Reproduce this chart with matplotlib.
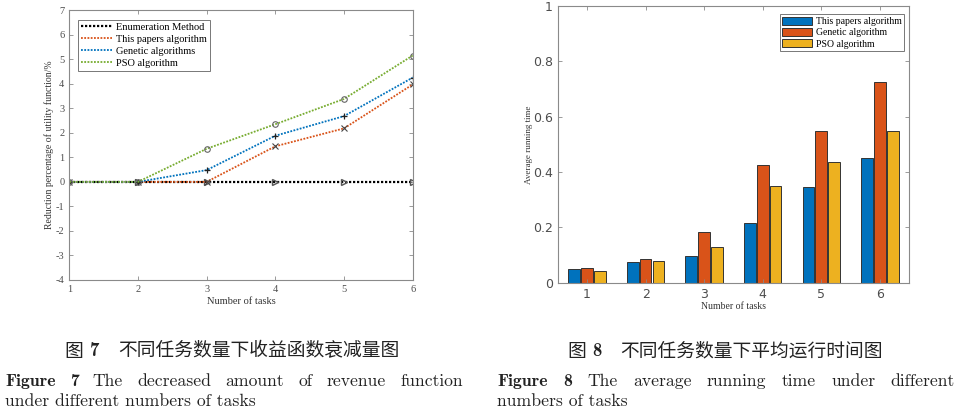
import numpy as np
import matplotlib
matplotlib.use('Agg')
import matplotlib.pyplot as plt

plt.rcParams['axes.unicode_minus'] = False

# figure 7 data: reduction percentage of utility function
tasks = [1, 2, 3, 4, 5, 6]
enum_vals = [0, 0, 0, 0, 0, 0]
paper_vals = [0, 0, 0, 1.45, 2.18, 3.97]
genetic_vals = [0, 0, 0.48, 1.88, 2.68, 4.25]
pso_vals = [0, 0, 1.35, 2.35, 3.38, 5.15]
line_labels = ['Enumeration Method', 'This papers algorithm',
               'Genetic algorithms', 'PSO algorithm']

# figure 8 data: average running time
run_paper = [0.050, 0.074, 0.095, 0.217, 0.347, 0.452]
run_genetic = [0.052, 0.087, 0.182, 0.425, 0.547, 0.727]
run_pso = [0.042, 0.077, 0.130, 0.350, 0.437, 0.550]
bar_labels = ['This papers algorithm', 'Genetic algorithm', 'PSO algorithm']

cap7_cn = '不同任务数量下收益函数衰减量图'
cap7_en = ['The decreased amount of revenue function', 'under different numbers of tasks']
cap8_cn = '不同任务数量下平均运行时间图'
cap8_en = ['The average running time under different', 'numbers of tasks']

TIMES = 'Liberation Serif'
CJK = ['Noto Sans CJK SC', 'DejaVu Sans']
spine_c = '#8a8a8a'
tick_c = '#4d4d4d'

fig = plt.figure(figsize=(9.6, 4.12), dpi=100)


def matlab_axes(ax):
    for s in ax.spines.values():
        s.set_color(spine_c)
        s.set_linewidth(0.8)
    ax.tick_params(direction='in', top=True, right=True, color=spine_c,
                   labelcolor=tick_c, length=3, width=0.6)


# ---- left: line chart
ax1 = fig.add_axes([0.0722, 0.3204, 0.3577, 0.655])
dot = (0, (1, 0.8))
ax1.plot(tasks, enum_vals, color='black', ls=dot, lw=1.6, marker='>', ms=4,
         mfc='none', mec='#555555', label=line_labels[0])
ax1.plot(tasks, paper_vals, color='#D95319', ls=dot, lw=1.3, marker='x', ms=4,
         mec='#444444', mew=0.8, label=line_labels[1])
ax1.plot(tasks, genetic_vals, color='#0072BD', ls=dot, lw=1.3, marker='+', ms=5,
         mec='#222222', mew=0.9, label=line_labels[2])
ax1.plot(tasks, pso_vals, color='#77AC30', ls=dot, lw=1.3, marker='o', ms=4,
         mfc='none', mec='#666666', mew=0.8, label=line_labels[3])
ax1.set_xlim(1, 6)
ax1.set_ylim(-4, 7)
ax1.set_xticks(tasks)
ax1.set_yticks(range(-4, 8))
matlab_axes(ax1)
for lab in ax1.get_xticklabels() + ax1.get_yticklabels():
    lab.set_fontfamily(TIMES)
    lab.set_fontsize(7.5)
ax1.set_xlabel('Number of tasks', family=TIMES, fontsize=7.5, color='#333333', labelpad=2)
ax1.set_ylabel('Reduction percentage of utility function/%', family=TIMES,
               fontsize=7, color='#333333', labelpad=1)
leg1 = ax1.legend(loc='upper left', bbox_to_anchor=(0.025, 0.965), prop={'family': TIMES, 'size': 7.5},
                  frameon=True, fancybox=False, handlelength=3.0, handletextpad=0.4,
                  borderpad=0.3, labelspacing=0.25, borderaxespad=0)
leg1.get_frame().set_edgecolor('#555555')
leg1.get_frame().set_linewidth(0.7)
for h in leg1.get_lines():
    h.set_marker('')

# ---- right: grouped bars
ax2 = fig.add_axes([0.581, 0.3138, 0.366, 0.6716])
x = np.array(tasks)
bw = 0.2
off = 0.22
colors = ['#0072BD', '#D95319', '#EDB120']
for i, (vals, lab) in enumerate(zip([run_paper, run_genetic, run_pso], bar_labels)):
    ax2.bar(x + (i - 1) * off, vals, width=bw, color=colors[i], edgecolor='#333333',
            linewidth=0.7, label=lab)
ax2.set_xlim(0.5, 6.5)
ax2.set_ylim(0, 1)
ax2.set_xticks(tasks)
ax2.set_yticks([0, 0.2, 0.4, 0.6, 0.8, 1])
ax2.set_yticklabels(['0', '0.2', '0.4', '0.6', '0.8', '1'])
matlab_axes(ax2)
ax2.tick_params(labelsize=9)
ax2.set_xlabel('Number of tasks', family=TIMES, fontsize=7, color='#333333', labelpad=1)
ax2.set_ylabel('Average running time', family=TIMES, fontsize=6.5, color='#333333', labelpad=0)
leg2 = ax2.legend(loc='upper right', bbox_to_anchor=(0.985, 0.97), prop={'family': TIMES, 'size': 7},
                  frameon=True, fancybox=False, handlelength=3.0, handleheight=0.9,
                  handletextpad=0.4, borderpad=0.25, labelspacing=0.2, borderaxespad=0)
leg2.get_frame().set_edgecolor('#555555')
leg2.get_frame().set_linewidth(0.7)

# ---- captions
W, H = 960, 412


def fx(px):
    return px / W


def fy(py):
    return 1 - py / H


def cn_caption(cx, py, num, text):
    t1 = fig.text(0, fy(py), '图', family=CJK, fontsize=13.5, va='center', color='#222222')
    t2 = fig.text(0, fy(py), num, family='cmb10', fontsize=13.5, va='center', color='#222222')
    t3 = fig.text(0, fy(py), text, family=CJK, fontsize=13.5, va='center', color='#222222')
    r = fig.canvas.get_renderer()
    w1 = t1.get_window_extent(r).width
    w2 = t2.get_window_extent(r).width
    w3 = t3.get_window_extent(r).width
    gap1, gap2 = 6, 19
    total = w1 + gap1 + w2 + gap2 + w3
    x0 = cx - total / 2
    t1.set_x(fx(x0))
    t2.set_x(fx(x0 + w1 + gap1))
    t3.set_x(fx(x0 + w1 + gap1 + w2 + gap2))


def justify(words, x0, x1, py, fonts):
    r = fig.canvas.get_renderer()
    objs = []
    for w, f in zip(words, fonts):
        objs.append(fig.text(0, fy(py), w, family=f, fontsize=12.7, va='baseline', color='#222222'))
    widths = [o.get_window_extent(r).width for o in objs]
    gap = (x1 - x0 - sum(widths)) / (len(objs) - 1)
    xx = x0
    for o, wd in zip(objs, widths):
        o.set_x(fx(xx))
        xx += wd + gap


def plain(text, x0, py):
    fig.text(fx(x0), fy(py), text, family='cmr10', fontsize=12.7, va='baseline', color='#222222')


cn_caption(232, 351, '7', cap7_cn)
cn_caption(725, 351, '8', cap8_cn)

w7 = ['Figure', '7'] + cap7_en[0].split()
justify(w7, 5, 463, 386, ['cmb10', 'cmb10'] + ['cmr10'] * (len(w7) - 2))
plain(cap7_en[1], 5, 406)

w8 = ['Figure', '8'] + cap8_en[0].split()
justify(w8, 497, 955, 386, ['cmb10', 'cmb10'] + ['cmr10'] * (len(w8) - 2))
plain(cap8_en[1], 497, 406)

fig.savefig('out.png', dpi=100)
